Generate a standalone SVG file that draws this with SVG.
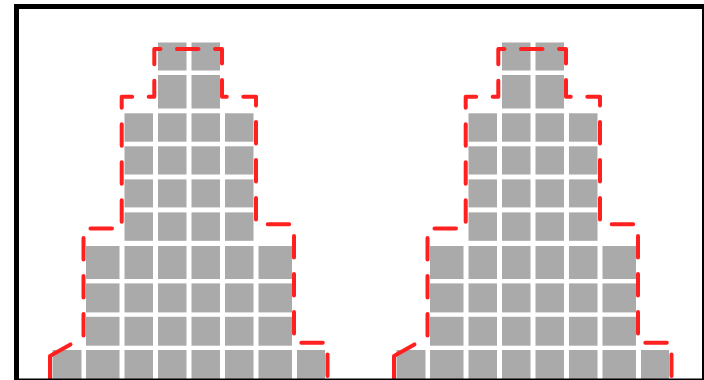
<svg xmlns="http://www.w3.org/2000/svg" xmlns:xlink="http://www.w3.org/1999/xlink" width="704" height="380" viewBox="0 0 704 380">
<style>
.cell{fill:#aaaaaa}
.outline{fill:none;stroke:#ff2020;stroke-width:4;stroke-linecap:round;stroke-linejoin:round;stroke-dasharray:21.5 16.5;stroke-dashoffset:-2}
.solid{fill:none;stroke:#ff2020;stroke-width:4;stroke-linecap:round}
.frame{fill:none;stroke:#000000;stroke-width:5}
</style>
<defs>
<g id="hist">
  <g class="cells">
    <!-- rows 0-1 -->
    <rect class="cell" x="158" y="42.5" width="28.5" height="28"/>
    <rect class="cell" x="191.5" y="42.5" width="28.5" height="28"/>
    <rect class="cell" x="158" y="75" width="28.5" height="33.5"/>
    <rect class="cell" x="191.5" y="75" width="28.5" height="33.5"/>
    <!-- rows 2-5 -->
    <rect class="cell" x="124.5" y="113.3" width="28.5" height="28.4"/>
    <rect class="cell" x="158" y="113.3" width="28.5" height="28.4"/>
    <rect class="cell" x="191.5" y="113.3" width="28.5" height="28.4"/>
    <rect class="cell" x="225" y="113.3" width="28.5" height="28.4"/>
    <rect class="cell" x="124.5" y="146.3" width="28.5" height="28.2"/>
    <rect class="cell" x="158" y="146.3" width="28.5" height="28.2"/>
    <rect class="cell" x="191.5" y="146.3" width="28.5" height="28.2"/>
    <rect class="cell" x="225" y="146.3" width="28.5" height="28.2"/>
    <rect class="cell" x="124.5" y="179.4" width="28.5" height="28"/>
    <rect class="cell" x="158" y="179.4" width="28.5" height="28"/>
    <rect class="cell" x="191.5" y="179.4" width="28.5" height="28"/>
    <rect class="cell" x="225" y="179.4" width="28.5" height="28"/>
    <rect class="cell" x="124.5" y="212.4" width="28.5" height="28.4"/>
    <rect class="cell" x="158" y="212.4" width="28.5" height="28.4"/>
    <rect class="cell" x="191.5" y="212.4" width="28.5" height="28.4"/>
    <rect class="cell" x="225" y="212.4" width="28.5" height="28.4"/>
    <!-- rows 6-8 -->
    <rect class="cell" x="86" y="246" width="33.5" height="33"/>
    <rect class="cell" x="124.5" y="246" width="28.5" height="33"/>
    <rect class="cell" x="158" y="246" width="28.5" height="33"/>
    <rect class="cell" x="191.5" y="246" width="28.5" height="33"/>
    <rect class="cell" x="225" y="246" width="28.5" height="33"/>
    <rect class="cell" x="258.5" y="246" width="33.5" height="33"/>
    <rect class="cell" x="86" y="283.4" width="33.5" height="29"/>
    <rect class="cell" x="124.5" y="283.4" width="28.5" height="29"/>
    <rect class="cell" x="158" y="283.4" width="28.5" height="29"/>
    <rect class="cell" x="191.5" y="283.4" width="28.5" height="29"/>
    <rect class="cell" x="225" y="283.4" width="28.5" height="29"/>
    <rect class="cell" x="258.5" y="283.4" width="33.5" height="29"/>
    <rect class="cell" x="86" y="316.8" width="33.5" height="28.9"/>
    <rect class="cell" x="124.5" y="316.8" width="28.5" height="28.9"/>
    <rect class="cell" x="158" y="316.8" width="28.5" height="28.9"/>
    <rect class="cell" x="191.5" y="316.8" width="28.5" height="28.9"/>
    <rect class="cell" x="225" y="316.8" width="28.5" height="28.9"/>
    <rect class="cell" x="258.5" y="316.8" width="33.5" height="28.9"/>
    <!-- row 9 -->
    <rect class="cell" x="52.5" y="350" width="29" height="30"/>
    <rect class="cell" x="86" y="350" width="33.5" height="30"/>
    <rect class="cell" x="124.5" y="350" width="28.5" height="30"/>
    <rect class="cell" x="158" y="350" width="28.5" height="30"/>
    <rect class="cell" x="191.5" y="350" width="28.5" height="30"/>
    <rect class="cell" x="225" y="350" width="28.5" height="30"/>
    <rect class="cell" x="258.5" y="350" width="33.5" height="30"/>
    <rect class="cell" x="297" y="350" width="28" height="30"/>
  </g>
  <g class="outline-group">
    <path class="solid" d="M50,382 V356"/>
    <path class="outline" d="M50,356 L83.5,337 V228.5 H121.7 V96.7 H154.3 V49 H222 V96.7 H256 V224.3 H294 V342.7 H327.5 V382"/>
  </g>
</g>
</defs>
<g id="histogram-left">
  <use href="#hist" xlink:href="#hist"/>
</g>
<g id="histogram-right">
  <use href="#hist" xlink:href="#hist" x="344"/>
</g>
<rect id="frame" class="frame" x="16.5" y="6.5" width="688" height="374.5"/>
</svg>
